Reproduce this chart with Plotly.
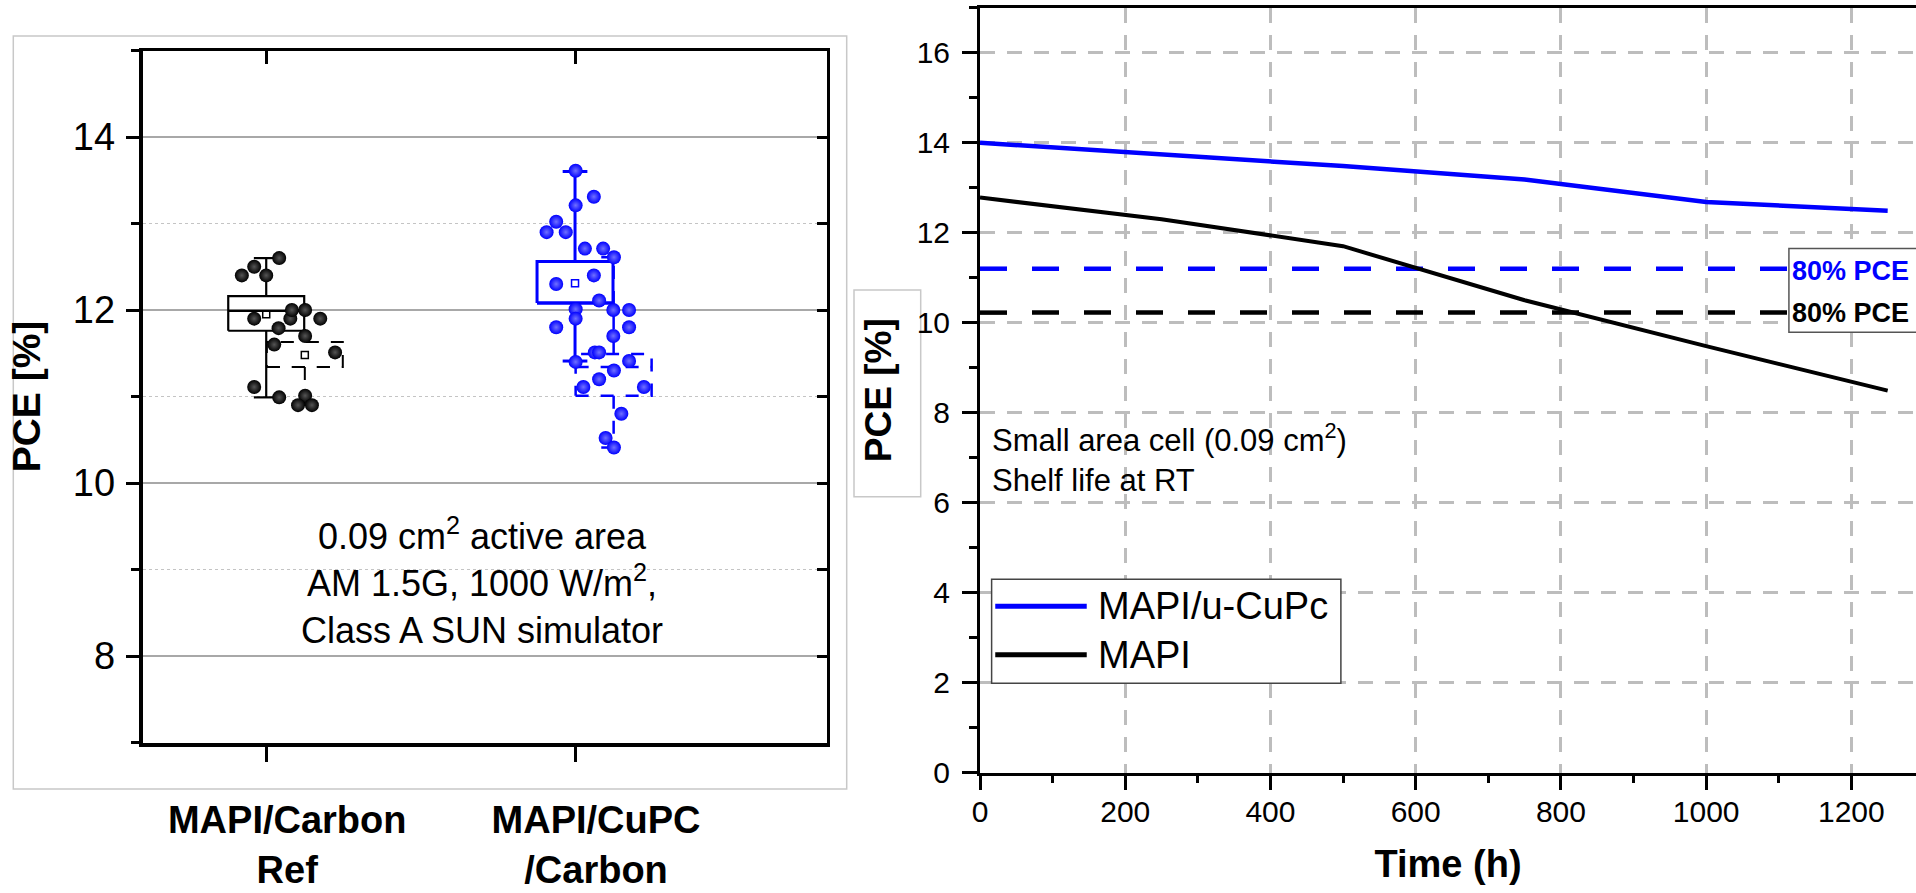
import plotly.graph_objects as go

W, H = 1916, 893
FONT = "Liberation Sans, Arial, sans-serif"

# ---------------- data: left panel (box plot) ----------------
categories = ["MAPI/Carbon<br>Ref", "MAPI/CuPC<br>/Carbon"]
cat_pos = [1, 2]
colors = ["#000000", "#0000ff"]
highlight = ["#555555", "#7070ff"]

ref_pce = [12.40, 12.50, 12.40, 12.60, 11.90, 11.79, 11.90, 12.00, 12.00,
           11.90, 11.70, 11.60, 11.51, 11.11, 10.99, 11.01, 10.90, 10.90]
ref_jitter = [-0.079, -0.039, 0.0, 0.042, -0.039, 0.040, 0.078, 0.083, 0.126,
              0.175, 0.126, 0.026, 0.223, -0.039, 0.042, 0.126, 0.103, 0.148]

cupc_pce = [13.61, 13.31, 13.21, 13.02, 12.90, 12.90, 12.71, 12.71, 12.61, 12.30,
            12.40, 12.11, 12.01, 11.90, 12.00, 12.00, 11.80, 11.80, 11.70, 11.51,
            11.51, 11.40, 11.41, 11.30, 11.20, 11.11, 11.11, 10.80, 10.52, 10.41]
cupc_jitter = [0.002, 0.061, 0.002, -0.061, -0.092, -0.030, 0.032, 0.091, 0.126, -0.061,
               0.061, 0.078, 0.002, 0.002, 0.124, 0.175, -0.061, 0.175, 0.124, 0.064,
               0.078, 0.002, 0.175, 0.126, 0.078, 0.027, 0.223, 0.150, 0.099, 0.126]

# solid boxes
box_q1 = [11.76, 12.08]
box_median = [11.99, 12.08]
box_q3 = [12.16, 12.56]
box_low = [10.99, 11.41]
box_high = [12.60, 13.60]
box_mean = [11.95, 12.31]
# dashed (second) boxes
box2_q1 = [11.34, 11.01]
box2_median = [11.34, 11.34]
box2_q3 = [11.63, 11.49]
box2_low = [10.90, 10.41]
box2_high = [12.00, 12.61]
box2_mean = [11.48, None]

# ---------------- data: right panel (stability) ----------------
time_h = [0, 250, 500, 750, 1000, 1250]
pce_cupc = [14.00, 13.75, 13.48, 13.18, 12.68, 12.49]
pce_mapi = [12.78, 12.30, 11.70, 10.50, 9.48, 8.49]
series_names = ["MAPI/u-CuPc", "MAPI"]
threshold_frac = 0.8

fig = go.Figure()

HW, CW, OFF2 = 0.123, 0.04, 0.125


def box_path(c, q1, med, q3, lo, hi):
    xs = [c - HW, c + HW, c + HW, c - HW, c - HW, None,
          c - HW, c + HW, None,
          c, c, None, c, c, None,
          c - CW, c + CW, None, c - CW, c + CW]
    ys = [q1, q1, q3, q3, q1, None,
          med, med, None,
          q3, hi, None, q1, lo, None,
          hi, hi, None, lo, lo]
    return xs, ys


for i, c in enumerate(cat_pos):
    col = colors[i]
    xs, ys = box_path(c + OFF2, box2_q1[i], box2_median[i], box2_q3[i], box2_low[i], box2_high[i])
    fig.add_trace(go.Scatter(x=xs, y=ys, mode="lines", xaxis="x", yaxis="y",
                             line=dict(color=col, width=2.5 if i else 2, dash="13px,12px"),
                             hoverinfo="skip", showlegend=False))
    if box2_mean[i] is not None:
        fig.add_trace(go.Scatter(x=[c + OFF2], y=[box2_mean[i]], mode="markers",
                                 marker=dict(symbol="square-open", size=7, color=col, line=dict(width=1.5)),
                                 showlegend=False, hoverinfo="skip"))
    xs, ys = box_path(c, box_q1[i], box_median[i], box_q3[i], box_low[i], box_high[i])
    fig.add_trace(go.Scatter(x=xs, y=ys, mode="lines", xaxis="x", yaxis="y",
                             line=dict(color=col, width=3 if i else 2.2),
                             hoverinfo="skip", showlegend=False))
    fig.add_trace(go.Scatter(x=[c], y=[box_mean[i]], mode="markers",
                             marker=dict(symbol="square-open", size=7, color=col, line=dict(width=1.5)),
                             showlegend=False, hoverinfo="skip"))

for i, (vals, jit) in enumerate([(ref_pce, ref_jitter), (cupc_pce, cupc_jitter)]):
    fig.add_trace(go.Scatter(
        x=[cat_pos[i] + j for j in jit], y=vals, mode="markers", xaxis="x", yaxis="y",
        name=categories[i].replace("<br>", " "),
        marker=dict(size=14, color=colors[i], line=dict(width=0),
                    gradient=dict(type="radial", color=highlight[i])),
        showlegend=False))

# dummy trace to activate overlay axes
fig.add_trace(go.Scatter(x=[None], y=[None], xaxis="x3", yaxis="y3", showlegend=False, hoverinfo="skip"))

# ---------------- right panel traces ----------------
x_end = 1289
for vals, col in [(pce_cupc, "#0000ff"), (pce_mapi, "#000000")]:
    thr = threshold_frac * vals[0]
    fig.add_trace(go.Scatter(x=[0, x_end], y=[thr, thr], mode="lines", xaxis="x2", yaxis="y2",
                             line=dict(color=col, width=4.5, dash="27px,25px"),
                             showlegend=False, hoverinfo="skip"))
fig.add_trace(go.Scatter(x=time_h, y=pce_cupc, mode="lines", name=series_names[0],
                         xaxis="x2", yaxis="y2", line=dict(color="#0000ff", width=4.5),
                         showlegend=False))
fig.add_trace(go.Scatter(x=time_h, y=pce_mapi, mode="lines", name=series_names[1],
                         xaxis="x2", yaxis="y2", line=dict(color="#000000", width=4),
                         showlegend=False))

# ---------------- layout ----------------
def px_x(p):
    return p / W


def px_y(p):
    return 1 - p / H


tick_common = dict(tickcolor="black", linecolor="black", showline=True, zeroline=False, automargin=False)

fig.update_layout(
    width=W, height=H,
    margin=dict(l=0, r=0, t=0, b=0, autoexpand=False),
    paper_bgcolor="white", plot_bgcolor="white",
    font=dict(family=FONT, color="black"),
    showlegend=False,
    xaxis=dict(domain=[px_x(142.7), px_x(826.7)], anchor="y", range=[0.6, 2.815],
               tickvals=cat_pos, ticktext=categories, ticks="outside", ticklen=15, tickwidth=2.5,
               linewidth=4, showgrid=False, ticklabelstandoff=26, ticklabelshift=21,
               tickfont=dict(size=38, weight="bold", family=FONT), **tick_common),
    yaxis=dict(domain=[px_y(742.5), px_y(50.5)], anchor="x", range=[7, 15],
               tick0=8, dtick=2, ticks="outside", ticklen=13, tickwidth=2.5, linewidth=4,
               showgrid=True, gridcolor="#a8a8a8", gridwidth=1.6, ticklabelstandoff=3,
               tickfont=dict(size=38, family=FONT),
               minor=dict(dtick=1, ticks="outside", ticklen=8, tickwidth=2.5, tickcolor="black",
                          showgrid=True, gridcolor="#c4c4c4", griddash="dot", gridwidth=1.3),
               title=dict(text="PCE [%]", standoff=21, font=dict(size=39, weight="bold", family=FONT)),
               **tick_common),
    xaxis3=dict(overlaying="x", side="top", anchor="y", range=[0.6, 2.815], tickvals=cat_pos,
                ticks="inside", ticklen=13, tickwidth=2.5, showticklabels=False, linewidth=3,
                showgrid=False, **tick_common),
    yaxis3=dict(overlaying="y", side="right", anchor="x", range=[7, 15], dtick=1,
                ticks="inside", ticklen=10, tickwidth=2.5, showticklabels=False, linewidth=3,
                showgrid=False, **tick_common),
    xaxis2=dict(domain=[px_x(980), 1.0], anchor="y2", range=[0, x_end], dtick=200,
                ticks="outside", ticklen=14, tickwidth=2.5, linewidth=3, mirror=True,
                showgrid=True, gridcolor="#bdbdbd", gridwidth=2.5, griddash="15px,12px",
                minor=dict(dtick=100, ticks="outside", ticklen=7, tickwidth=2.5, tickcolor="black", showgrid=False),
                tickfont=dict(size=30, family=FONT), ticklabelstandoff=-4,
                title=dict(text="Time (h)", standoff=24, font=dict(size=38, weight="bold", family=FONT)),
                **tick_common),
    yaxis2=dict(domain=[px_y(772.7), px_y(7.7)], anchor="x2", range=[0, 17], dtick=2,
                ticks="outside", ticklen=15, tickwidth=2.5, linewidth=3,
                showgrid=True, gridcolor="#bdbdbd", gridwidth=2.5, griddash="15px,12px",
                minor=dict(dtick=1, ticks="outside", ticklen=8, tickwidth=2.5, tickcolor="black", showgrid=False),
                tickfont=dict(size=30, family=FONT), ticklabelstandoff=6,
                title=dict(text="PCE [%]", standoff=14, font=dict(size=37, weight="bold", family=FONT)),
                **tick_common),
)

shapes = [
    dict(type="rect", xref="paper", yref="paper", x0=px_x(13.3), x1=px_x(846.7),
         y0=px_y(789), y1=px_y(36), line=dict(color="#c8c8c8", width=1.5), layer="below"),
    dict(type="rect", xref="paper", yref="paper", x0=px_x(854), x1=px_x(920.7),
         y0=px_y(496.7), y1=px_y(290), line=dict(color="#c8c8c8", width=1.5), layer="below"),
    dict(type="rect", xref="x2", yref="y2", x0=16, x1=497, y0=1.99, y1=4.30,
         fillcolor="white", line=dict(color="#444444", width=1.5), layer="above"),
    dict(type="line", xref="x2", yref="y2", x0=21, x1=147, y0=3.70, y1=3.70,
         line=dict(color="#0000ff", width=5), layer="above"),
    dict(type="line", xref="x2", yref="y2", x0=21, x1=147, y0=2.62, y1=2.62,
         line=dict(color="#000000", width=5), layer="above"),
    dict(type="rect", xref="x2", yref="y2", x0=1114, x1=1400, y0=9.79, y1=11.65,
         fillcolor="white", line=dict(color="#555555", width=1.5), layer="above"),
]

annotations = [
    dict(xref="x", yref="y", x=1.70, y=8.87, xanchor="center", yanchor="middle", showarrow=False,
         text="0.09 cm<sup>2</sup> active area<br>AM 1.5G, 1000 W/m<sup>2</sup>,<br>Class A SUN simulator",
         font=dict(size=36, family=FONT, color="black"), align="center"),
    dict(xref="x2", yref="y2", x=14, y=7.0, xanchor="left", yanchor="middle", showarrow=False,
         text="Small area cell (0.09 cm<sup>2</sup>)<br>Shelf life at RT", align="left",
         font=dict(size=31, family=FONT, color="black")),
    dict(xref="x2", yref="y2", x=160, y=3.70, xanchor="left", yanchor="middle", showarrow=False,
         text=series_names[0], font=dict(size=38, family=FONT, color="black")),
    dict(xref="x2", yref="y2", x=160, y=2.62, xanchor="left", yanchor="middle", showarrow=False,
         text=series_names[1], font=dict(size=38, family=FONT, color="black")),
    dict(xref="x2", yref="y2", x=1116, y=threshold_frac * pce_cupc[0] - 0.05, xanchor="left", yanchor="middle",
         showarrow=False, text="80% PCE", font=dict(size=27, family=FONT, color="#0000ff", weight="bold")),
    dict(xref="x2", yref="y2", x=1116, y=threshold_frac * pce_mapi[0], xanchor="left", yanchor="middle",
         showarrow=False, text="80% PCE", font=dict(size=27, family=FONT, color="black", weight="bold")),
]

fig.update_layout(shapes=shapes, annotations=annotations)
fig.write_html("out.html", config={"displayModeBar": False},
               post_script="document.body.style.margin='0px';document.body.style.overflow='hidden';")
